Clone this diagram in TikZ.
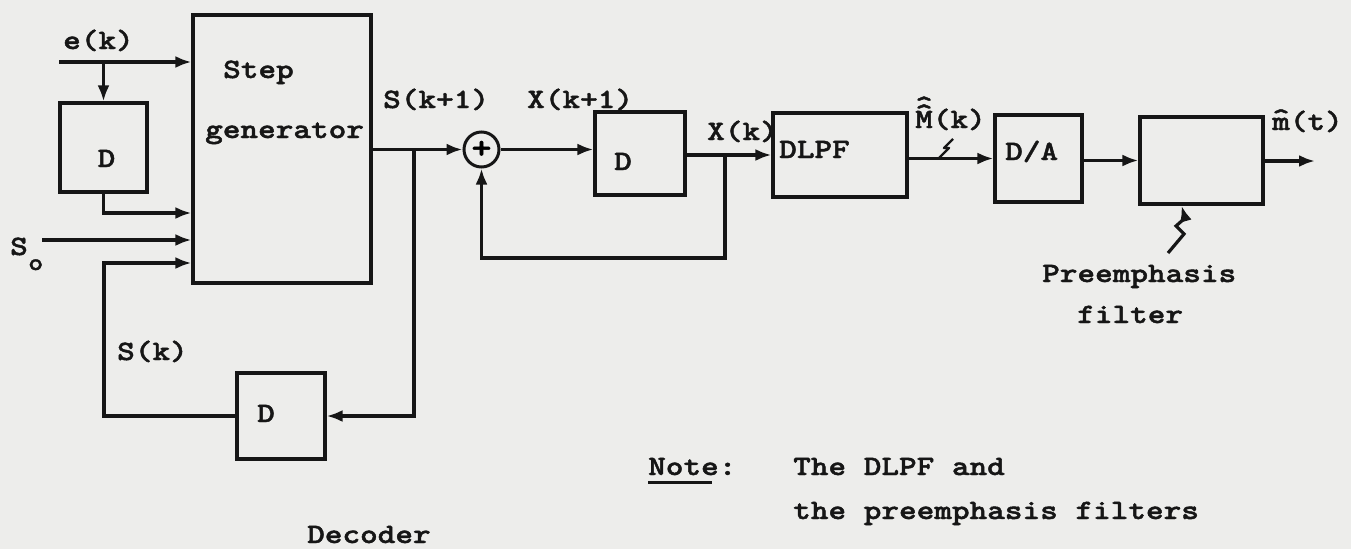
\documentclass[tikz,border=0pt]{standalone}
\usepackage{fontspec}
\newfontfamily\twfont{lmmonolt10-bold.otf}[FakeStretch=1.2, FakeBold=1.6]
\usetikzlibrary{arrows.meta,positioning,calc}
\definecolor{dmink}{HTML}{161616}
\definecolor{dmpaper}{HTML}{EDEDEB}
\newcommand{\tw}{\fontsize{28}{34}\selectfont\twfont}
\newcommand{\hatone}[1]{\ooalign{#1\cr\hidewidth\raisebox{0.12em}{\textasciicircum}\hidewidth\cr}}
\newcommand{\hattwo}[1]{\ooalign{#1\cr\hidewidth\raisebox{0.22em}{\textasciicircum}\hidewidth\cr\hidewidth\raisebox{0.5em}{\textasciicircum}\hidewidth\cr}}
\tikzset{
  blk/.style={draw=dmink, line width=3.2pt, inner sep=0pt},
  sumc/.style={circle, draw=dmink, line width=3pt, minimum size=35pt, inner sep=0pt, font=\fontsize{32}{32}\selectfont\twfont},
  arr/.style={-{Latex[length=16pt,width=12pt]}, line width=3.2pt, draw=dmink},
  wire/.style={line width=3pt, draw=dmink},
  mk/.style={line width=2.4pt, draw=dmink, line join=round},
  txt/.style={font=\tw, text=dmink, inner sep=0pt, anchor=base west},
  ctxt/.style={txt, anchor=base},
}

\begin{document}
\begin{tikzpicture}[x=1pt, y=-1pt]
  \fill[dmpaper] (0,0) rectangle (1351,549);
  \useasboundingbox (0,0) rectangle (1351,549);

  % blocks
  \node[blk, minimum width=178pt, minimum height=268pt] (sg) at (282,149) {};
  \node[blk, minimum width=87pt, minimum height=89pt] (d1) at (103.5,147.5) {};
  \node[blk, minimum width=90pt, minimum height=83pt] (d2) at (640,153.5) {};
  \node[blk, minimum width=88pt, minimum height=86pt] (d3) at (281,416) {};
  \node[blk, minimum width=134pt, minimum height=84pt] (dlpf) at (840,155) {};
  \node[blk, minimum width=87pt, minimum height=87pt] (da) at (1038.5,158.5) {};
  \node[blk, minimum width=123pt, minimum height=87pt] (pre) at (1201.5,160.5) {};
  \node[sumc] (sum) at (481.5,149.5) {+};

  % texts
  \node[txt] (stp) at (223,78) {Step};
  \node[txt] (gen) at (205,138) {generator};
  \node[ctxt] (d1t) at (106.5,167) {D};
  \node[ctxt] (d2t) at (623,170) {D};
  \node[ctxt] (d3t) at (266,422) {D};
  \node[txt] (dlpft) at (779,158) {DLPF};
  \node[txt] (dat) at (1005,160) {D/A};
  \node[txt] (ek) at (63,49) {e(k)};
  \node[txt] (s0) at (10,255) {S};
  \node[txt, font=\fontsize{24}{28}\selectfont\twfont] (s0i) at (28,270) {o};
  \node[txt] (sk1) at (383,108) {S(k+1)};
  \node[txt] (xk1) at (527,108) {X(k+1)};
  \node[txt] (xk) at (707,140) {X(k)};
  \node[txt] (mhk) at (915,128) {\hattwo{M}(k)};
  \node[txt] (mht) at (1272,130) {\hatone{m}(t)};
  \node[txt] (sk) at (117,360) {S(k)};
  \node[txt] (pf1) at (1042,282) {Preemphasis};
  \node[txt] (pf2) at (1077,323) {filter};
  \node[txt] (dec) at (307,543) {Decoder};
  \node[txt] (note) at (648,475) {Note:};
  \node[txt] (nt1) at (793,475) {The DLPF and};
  \node[txt] (nt2) at (793,519) {the preemphasis filters};
  \draw[wire] ($(note.base west)+(0,7)$) -- ++(64,0);

  % inputs of the step generator
  \coordinate (ein) at (59,62);
  \draw[arr] (ein) -- (ein -| sg.west);
  \draw[arr] (ein -| d1.north) -- (d1.north);
  \draw[arr] (d1.south) |- ($(sg.west)+(0,64)$);
  \coordinate (so) at (42,240);
  \draw[arr] (so) -- (so -| sg.west);
  \coordinate (fb) at (104,263);
  \draw[arr] (d3.west) -| (fb) -- (fb -| sg.west);

  % accumulator loop
  \draw[arr] (sg.east |- sum.west) -- (sum.west);
  \coordinate (br1) at (414,149.5);
  \draw[arr] (br1) |- (d3.east);
  \draw[arr] (sum.east) -- (sum.east -| d2.west);
  \draw[arr] (d2.east |- dlpf.west) -- (dlpf.west);
  \coordinate (br2) at (725,155);
  \draw[arr] (br2) -- ++(0,103) -| (sum.south);

  % output chain
  \draw[arr] (dlpf.east |- da.west) -- (da.west);
  \draw[mk] (939,158) -- (949,148) -- (944,148) -- (953,139);
  \draw[arr] (da.east |- pre.west) -- (pre.west);
  \coordinate (mout) at (1315,161);
  \draw[arr] (pre.east |- mout) -- (mout);
  \coordinate (pfp) at (1168,253);
  \draw[arr] (pfp) -- (1184,234) -- (1176,226) -- (1185,218) -- ($(pre.south)+(-20,0)$);
\end{tikzpicture}
\end{document}
